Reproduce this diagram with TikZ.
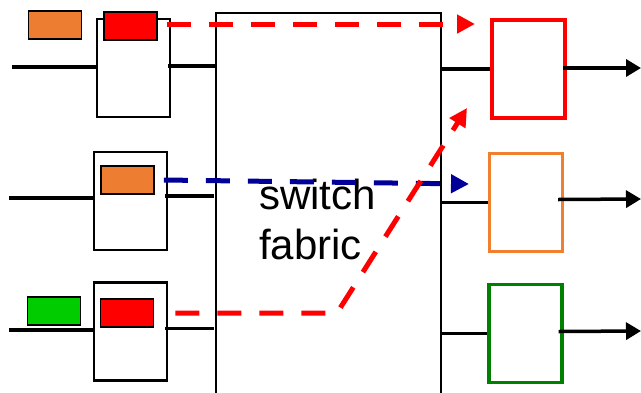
\documentclass[tikz,border=0pt]{standalone}
\usepackage{fontspec}
\setmainfont{Liberation Sans}
\usetikzlibrary{arrows.meta}
\definecolor{pktorange}{RGB}{237,125,49}
\definecolor{pktgreen}{RGB}{0,204,0}
\definecolor{portorange}{RGB}{240,128,48}
\definecolor{portgreen}{RGB}{0,128,0}
\definecolor{flowblue}{RGB}{0,0,153}

\begin{document}
\begin{tikzpicture}[
    x=1pt, y=-1pt,
    port/.style={rectangle, draw, line width=2.2pt, minimum width=73pt,
                 minimum height=98pt, inner sep=0pt},
    outport/.style={port, line width=3.4pt},
    pkt/.style={rectangle, draw, line width=1.8pt, minimum width=53pt,
                minimum height=28pt, inner sep=0pt},
    link/.style={line width=3.5pt},
    outarr/.style={link, -{Triangle[length=15pt, width=17pt]}},
    flow/.style={line width=5pt, dash pattern=on 24pt off 18pt,
                 -{Triangle[length=18pt, width=18pt]}},
]
\useasboundingbox (0,0) rectangle (641,392);

% Switch fabric (open at the bottom)
\node[rectangle, draw, line width=1.7pt, minimum width=225pt,
      minimum height=387pt, inner sep=0pt] (fab) at (328.5,206.5) {};
\node[font=\fontsize{42pt}{50pt}\selectfont, align=left, inner sep=0pt,
      anchor=north west] (sf) at (259,179) {switch\\fabric};

% Column 1 — input ports
\node[port] (in1) at (133.5,68)    {};
\node[port] (in2) at (130.5,201)   {};
\node[port] (in3) at (130.5,331.5) {};

\coordinate (src1) at (12,67);
\coordinate (src2) at (9,198);
\coordinate (src3) at (9,330);

\draw[link] (src1) -- (src1 -| in1.west);
\draw[link] (src2) -- (src2 -| in2.west);
\draw[link] (src3) -- (src3 -| in3.west);

\draw[link] ([xshift=-3pt]in1.east) ++(0,-2) -- ++(49,0);
\draw[link] ([xshift=-3pt]in2.east) ++(0,-5) -- ++(49,0);
\draw[link] ([xshift=-3pt]in3.east) ++(0,-3) -- ++(49,0);

% Queued packets
\node[pkt, fill=red]       (p1r) at (130.5,26) {};
\node[pkt, fill=pktorange] (p1o) at (55,25)    {};
\node[pkt, fill=pktorange] (p2o) at (127.5,180) {};
\node[pkt, fill=red]       (p3r) at (127,313)  {};
\node[pkt, fill=pktgreen]  (p3g) at (54,311)   {};

% Column 3 — output ports
\node[outport, draw=red]        (out1) at (528.5,69)    {};
\node[outport, draw=portorange] (out2) at (526,202.5)   {};
\node[outport, draw=portgreen]  (out3) at (525.5,333.5) {};

\draw[link] (fab.east |- out1.west) -- (out1.west);
\draw[link] (fab.east |- out2.west) -- (out2.west);
\draw[link] (fab.east |- out3.west) -- (out3.west);

\coordinate (dst1) at (641,68);
\coordinate (dst2) at (641,199);
\coordinate (dst3) at (641,331);

\draw[outarr] ([xshift=-4pt]out1.east) ++(0,-1) -- (dst1);
\draw[outarr] ([xshift=-6pt]out2.east) ++(0,-3) -- (dst2);
\draw[outarr] ([xshift=-5pt]out3.east) ++(0,-2) -- (dst3);

% Packet transfers through the fabric
\coordinate (tip1)  at (475,24);
\coordinate (tip2)  at (469,184);
\coordinate (bend3) at (337,313);
\coordinate (tip3)  at (467,108);

\draw[flow, red]      (p1r.east) ++(9,-2) -- (tip1);
\draw[flow, flowblue] (p2o.east) ++(9,0)  -- (tip2);
\draw[flow, red]      (p3r.east) ++(21,0) -- (bend3) -- (tip3);

\end{tikzpicture}
\end{document}
